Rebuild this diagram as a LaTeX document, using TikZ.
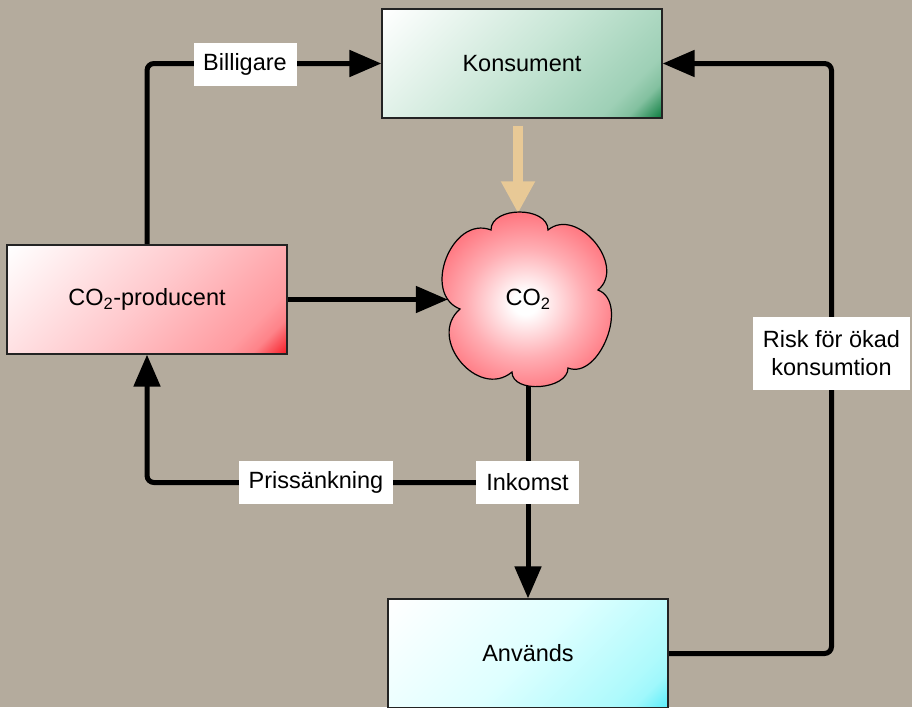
\documentclass[tikz,border=0pt]{standalone}
\usepackage{fontspec}
\setmainfont{Liberation Sans}
\usetikzlibrary{arrows.meta,calc}
\definecolor{bgcol}{RGB}{180,171,157}
\definecolor{boxline}{RGB}{35,35,35}
\definecolor{tanc}{RGB}{232,201,150}
\definecolor{kmid}{RGB}{200,230,214}
\definecolor{kside}{RGB}{158,208,182}
\definecolor{kdark}{RGB}{20,130,70}
\definecolor{pmid}{RGB}{255,200,204}
\definecolor{pside}{RGB}{255,155,160}
\definecolor{pdark}{RGB}{248,35,45}
\definecolor{amid}{RGB}{222,255,255}
\definecolor{aside}{RGB}{175,250,252}
\definecolor{adark}{RGB}{95,238,250}
\definecolor{cred}{RGB}{255,108,118}
\pgfdeclarehorizontalshading{konsgrad}{100bp}{color(0bp)=(white); color(15bp)=(white); color(50bp)=(kmid); color(74bp)=(kside); color(79bp)=(kside!80!kdark); color(85bp)=(kdark); color(100bp)=(kdark)}
\pgfdeclarehorizontalshading{prodgrad}{100bp}{color(0bp)=(white); color(15bp)=(white); color(50bp)=(pmid); color(74bp)=(pside); color(79bp)=(pside!80!pdark); color(85bp)=(pdark); color(100bp)=(pdark)}
\pgfdeclarehorizontalshading{anvgrad}{100bp}{color(0bp)=(white); color(15bp)=(white); color(50bp)=(amid); color(74bp)=(aside); color(79bp)=(aside!80!adark); color(85bp)=(adark); color(100bp)=(adark)}
\pgfdeclareradialshading{cloudgrad}{\pgfpoint{0bp}{0bp}}{color(0bp)=(white); color(3bp)=(white); color(14bp)=(cred!55!white); color(25bp)=(cred); color(50bp)=(cred)}
\pgfdeclarelayer{bglayer}
\pgfdeclarelayer{connlayer}
\pgfsetlayers{bglayer,connlayer,main}
\newcommand\diafont{\fontsize{23.5}{28}\selectfont}
\begin{document}
\begin{tikzpicture}[x=1pt,y=-1pt,
  box/.style={draw=boxline, line width=1.2pt, minimum width=280pt, minimum height=109pt, inner sep=0pt, font=\diafont, shade, shading angle=-45},
  lab/.style={fill=white, inner sep=0pt, minimum height=43pt, font=\diafont, align=center},
  conn/.style={line width=5pt, line cap=round, rounded corners=7pt},
  arr/.style={-{Triangle[length=32pt,width=26pt]}},
  tanarr/.style={draw=tanc, line width=10pt, -{Triangle[length=32pt,width=32pt]}},
  cloudline/.style={draw=black, line width=1.2pt, line join=miter, shade, shading=cloudgrad},
  cloudnode/.style={rectangle, draw=none, minimum width=160pt, minimum height=172pt, inner sep=0pt, font=\diafont}
]
\useasboundingbox (0,0) rectangle (912,707);
\begin{pgfonlayer}{bglayer}
\fill[bgcol] (0,0) rectangle (912,707);
\end{pgfonlayer}

\node[box, shading=konsgrad] (kons) at (522,63.5) {Konsument};
\node[box, shading=prodgrad] (prod) at (147,299.5) {CO\textsubscript{2}-producent};
\node[box, shading=anvgrad] (anv) at (528,653.5) {Används};

% cloud outline drawn directly
\path[cloudline] (460,309)
  .. controls (421,293.7) and (452,214.7) .. (491,230)
  .. controls (491,206) and (548,206) .. (548,230)
  .. controls (577,206) and (627,266) .. (598,290)
  .. controls (629.7,302.2) and (599.7,380.2) .. (568,368)
  .. controls (568,390) and (512,394) .. (512,372)
  .. controls (478.3,400.2) and (426.3,338.2) .. (460,309) -- cycle;
\node[cloudnode] (cloud) at (528,299.5) {CO\textsubscript{2}};

\node[lab, minimum width=103pt] (bill) at (245,64) {Billigare};
\node[lab, minimum width=154pt] (pris) at (316,482.5) {Prissänkning};
\node[lab, minimum width=103pt] (ink) at (527.5,482.5) {Inkomst};
\node[lab, minimum width=157pt, minimum height=73pt] (risk) at (831.5,353.5) {Risk för ökad\\konsumtion};

\coordinate (tantop) at ([xshift=-4pt,yshift=-7pt]kons.south);

\begin{pgfonlayer}{connlayer}
\draw[conn, arr] (prod.north) |- (kons.west);
\draw[conn, arr] (prod.east) -- (prod.east -| cloud.west);
\draw[conn, arr] (cloud.south) -- (anv.north);
\draw[conn, arr] (ink.west) -| (prod.south);
\draw[conn, arr] (anv.east) -- (anv.east -| risk) |- (kons.east);
\draw[tanarr] (tantop) -- (tantop |- cloud.north);
\end{pgfonlayer}
\end{tikzpicture}
\end{document}
